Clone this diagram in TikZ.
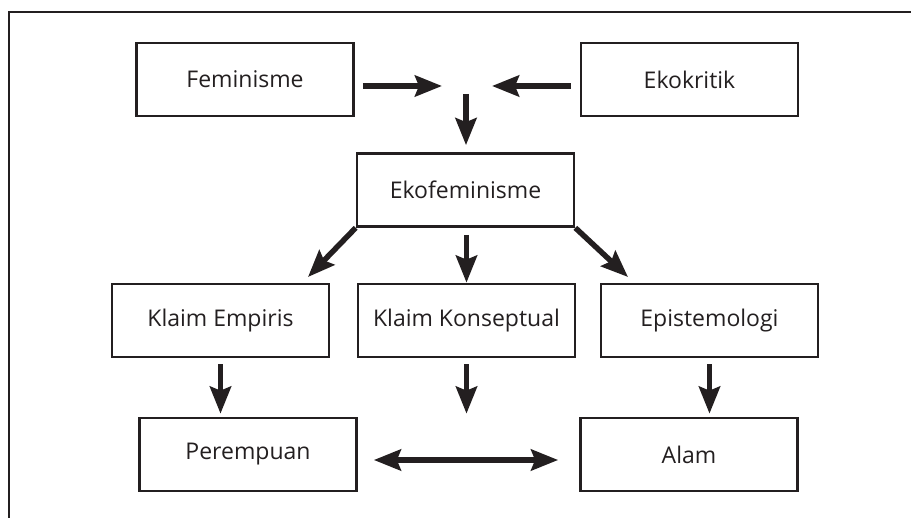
\documentclass[tikz,border=0pt]{standalone}
\usepackage{fontspec}
\setmainfont{Open Sans}
\usetikzlibrary{arrows.meta}
\definecolor{ink}{HTML}{231F20}
\begin{document}
\begin{tikzpicture}[x=1pt,y=-1pt,
  box/.style={draw=ink,line width=2.7pt,minimum width=217pt,minimum height=73pt,inner sep=0pt,font=\fontsize{23}{27}\selectfont,text=ink},
  arr/.style={draw=ink,line width=5.5pt,-{Stealth[length=27pt,width=21pt,inset=4pt]}},
  darr/.style={draw=ink,line width=5.5pt,{Stealth[length=27pt,width=21pt,inset=4pt]}-{Stealth[length=27pt,width=21pt,inset=4pt]}}]
\useasboundingbox (0,0) rectangle (911,518);
\draw[ink,line width=1.3pt] (9,518) -- (9,12) -- (911,12);

\node[box] (fem) at (245,79.5) {Feminisme};
\node[box] (eko) at (689.5,79.5) {Ekokritik};
\node[box] (ekf) at (465.5,190) {Ekofeminisme};
\node[box] (ke) at (220.5,320.5) {Klaim Empiris};
\node[box] (kk) at (466.5,320.5) {Klaim Konseptual};
\node[box] (ep) at (709.5,320.5) {Epistemologi};
\node[box] (per) at (248,454.5) {Perempuan};
\node[box] (alam) at (689,454.5) {Alam};

\coordinate (mL) at (442,86);
\coordinate (mR) at (492,86);
\coordinate (mT) at (466,94);
\coordinate (dl) at (308,277);
\coordinate (dr) at (628,277);
\coordinate (dy) at (0,460);

\draw[arr,shorten <=8pt] (fem.east |- mL) -- (mL);
\draw[arr,shorten <=9pt] (eko.west |- mR) -- (mR);
\draw[arr,shorten >=7pt] (mT) -- (mT |- ekf.north);

\draw[arr] (ekf.south west) -- (dl);
\draw[arr,shorten <=7pt] (kk.north |- ekf.south) -- (kk.north);
\draw[arr] (ekf.south east) -- (dr);

\draw[arr,shorten <=6pt,shorten >=3pt] (ke.south) -- (ke.south |- per.north);
\draw[arr,shorten <=6pt,shorten >=3pt] (kk.south) -- (kk.south |- per.north);
\draw[arr,shorten <=6pt,shorten >=3pt] (ep.south) -- (ep.south |- alam.north);

\draw[darr,shorten <=16pt,shorten >=21pt] (per.east |- dy) -- (alam.west |- dy);
\end{tikzpicture}
\end{document}
